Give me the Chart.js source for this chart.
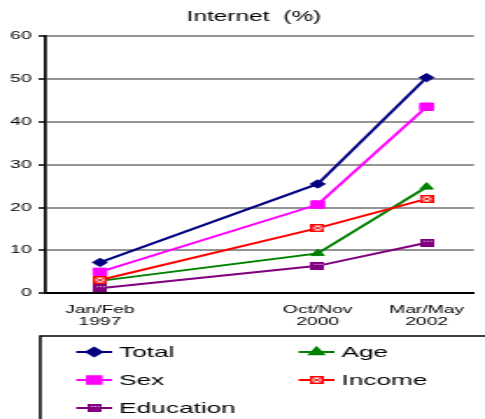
<!DOCTYPE html>
<html>
<head>
<meta charset="utf-8">
<script src="https://cdn.jsdelivr.net/npm/chart.js@4"></script>
<style>
  body { margin: 0; background: #fff; }
</style>
</head>
<body>
<!-- drawn narrow and stretched sideways, like the original picture -->
<canvas id="chart" width="277" height="419" style="width:485px;height:419px"></canvas>
<script>
const categories = [['Jan/Feb', '1997'], ['Oct/Nov', '2000'], ['Mar/May', '2002']];
const xPos = [1, 5, 7];
const total = [7.2, 25.5, 50.3];
const age = [2.9, 9.3, 24.8];
const sex = [5.0, 20.7, 43.5];
const income = [3.1, 15.2, 22.0];
const education = [1.2, 6.4, 11.8];
const yTicks = [0, 10, 20, 30, 40, 50, 60];

const FONT = "'Liberation Sans', Arial, sans-serif";

// little marker images for the two patterned squares
function envelope() {
  const c = document.createElement('canvas');
  c.width = 8; c.height = 8;
  const g = c.getContext('2d');
  g.fillStyle = '#fff';
  g.fillRect(0, 0, 8, 8);
  g.strokeStyle = '#ff0000';
  g.lineWidth = 1.5;
  g.strokeRect(0.75, 0.75, 6.5, 6.5);
  g.lineWidth = 1;
  g.beginPath();
  g.moveTo(1, 1.5); g.lineTo(7, 6.5);
  g.moveTo(7, 1.5); g.lineTo(1, 6.5);
  g.stroke();
  return c;
}
function dotted() {
  const c = document.createElement('canvas');
  c.width = 8; c.height = 8;
  const g = c.getContext('2d');
  g.fillStyle = '#800080';
  g.fillRect(0, 0, 8, 8);
  g.fillStyle = '#e8c8e8';
  for (let x = 2; x < 7; x += 2) g.fillRect(x, 2, 1, 1);
  return c;
}

function series(label, values, color, style, radius, order) {
  return {
    label: label,
    data: values.map((v, i) => ({ x: xPos[i], y: v })),
    borderColor: color,
    backgroundColor: color,
    borderWidth: 2,
    pointStyle: style,
    pointRadius: radius,
    pointBorderWidth: 1,
    pointBorderColor: color,
    pointBackgroundColor: color,
    order: order
  };
}

const datasets = [
  series('Total', total, '#000080', 'rectRot', 4.2, 5),
  series('Age', age, '#008000', 'triangle', 4.3, 4),
  series('Sex', sex, '#ff00ff', 'rect', 5.3, 3),
  series('Income', income, '#ff0000', envelope(), 4, 2),
  series('Education', education, '#800080', dotted(), 4, 1)
];

const titleAndLegend = {
  id: 'titleAndLegend',
  afterDraw(chart) {
    const ctx = chart.ctx;
    ctx.save();
    ctx.fillStyle = '#000';
    ctx.font = '14px ' + FONT;
    ctx.textAlign = 'center';
    ctx.textBaseline = 'middle';
    ctx.fillText('Internet  (%)', 145, 17);

    // legend frame, runs off the right and bottom edge
    ctx.strokeStyle = '#000';
    ctx.lineWidth = 1.5;
    ctx.strokeRect(23, 336, 300, 120);

    ctx.textAlign = 'left';
    ctx.font = '15px ' + FONT;
    chart.data.datasets.forEach((ds, i) => {
      const col = i % 2, row = Math.floor(i / 2);
      const x0 = col ? 170.5 : 43.5;
      const y = 352 + row * 28;
      ctx.strokeStyle = ds.borderColor;
      ctx.lineWidth = 2;
      ctx.beginPath();
      ctx.moveTo(x0, y);
      ctx.lineTo(x0 + 20.5, y);
      ctx.stroke();
      ctx.fillStyle = ds.backgroundColor;
      Chart.helpers.drawPoint(ctx, {
        pointStyle: ds.pointStyle, radius: ds.pointRadius, rotation: 0, borderWidth: 1
      }, x0 + 10.3, y);
      ctx.fillStyle = '#000';
      ctx.fillText(ds.label, x0 + 24.5, y + 1);
    });
    ctx.restore();
  }
};

new Chart(document.getElementById('chart'), {
  type: 'line',
  data: { datasets: datasets },
  options: {
    responsive: false,
    animation: false,
    devicePixelRatio: 1,
    layout: { padding: { top: 36, right: 0, left: 0, bottom: 0 } },
    plugins: {
      legend: { display: false },
      title: { display: false },
      tooltip: { enabled: false }
    },
    scales: {
      x: {
        type: 'linear',
        min: 0,
        max: 7.87,
        afterBuildTicks: (scale) => { scale.ticks = xPos.map(v => ({ value: v })); },
        afterFit: (scale) => { scale.height = 125.7; scale.paddingLeft = 0; scale.paddingRight = 0; },
        grid: { display: false, drawTicks: false },
        border: { display: true, color: '#000', width: 2 },
        ticks: {
          autoSkip: false,
          maxRotation: 0,
          padding: 10,
          color: '#000',
          font: { family: FONT, size: 11, lineHeight: 1.15 },
          callback: (v) => categories[xPos.indexOf(v)] || ''
        }
      },
      y: {
        min: 0,
        max: 60,
        afterBuildTicks: (scale) => { scale.ticks = yTicks.map(v => ({ value: v })); },
        afterFit: (scale) => { scale.width = 26; },
        grid: { color: '#949494', lineWidth: 2, tickLength: 4, tickColor: '#000', tickWidth: 1.5 },
        border: { display: true, color: '#000', width: 1.7 },
        ticks: {
          padding: 4,
          color: '#000',
          font: { family: FONT, size: 11 }
        }
      }
    }
  },
  plugins: [titleAndLegend]
});
</script>
</body>
</html>
